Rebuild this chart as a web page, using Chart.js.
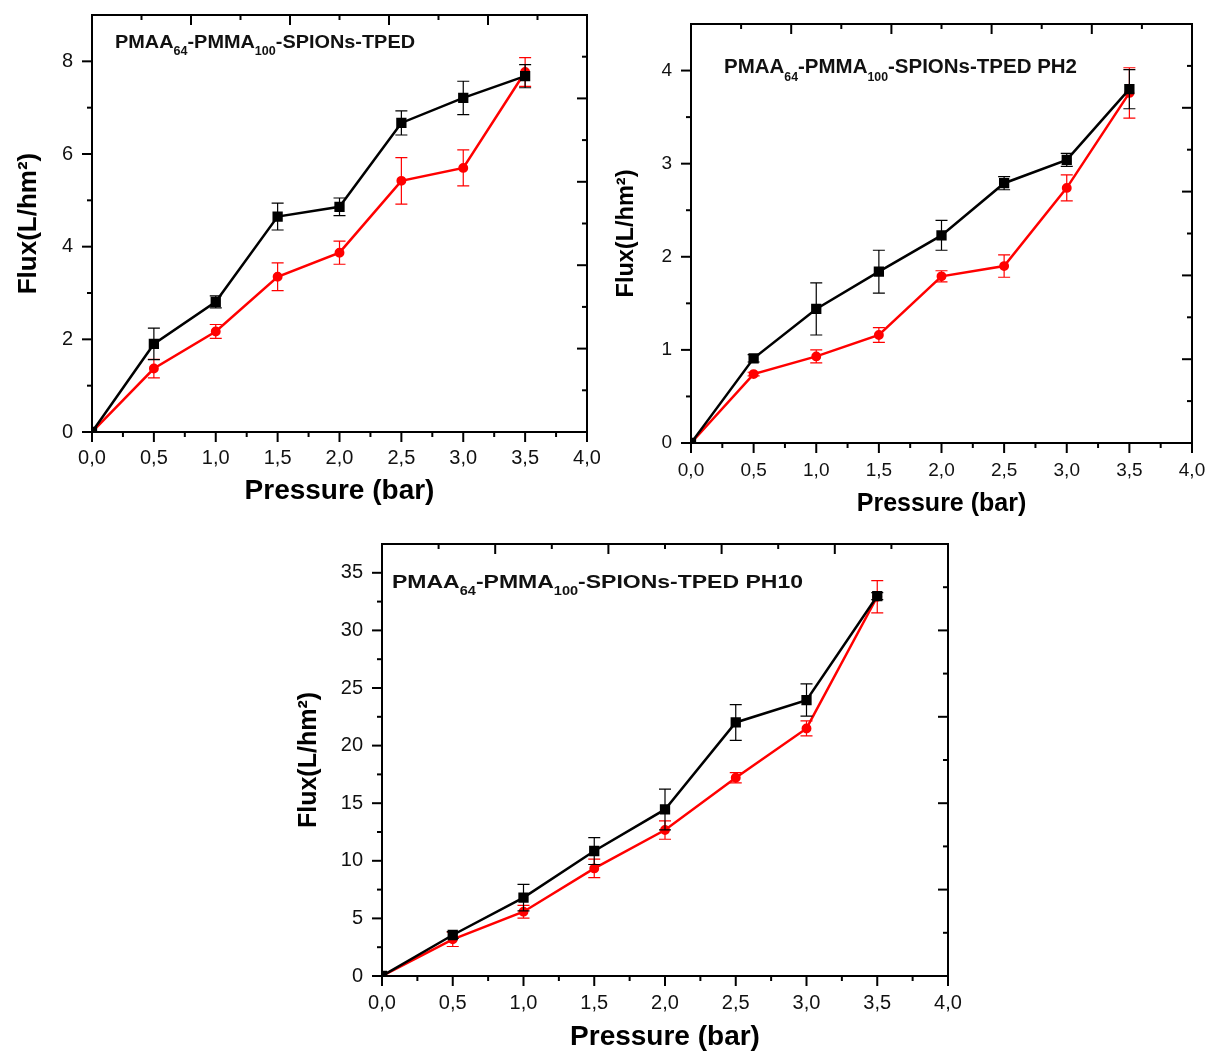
<!DOCTYPE html>
<html>
<head>
<meta charset="utf-8">
<script src="https://cdn.jsdelivr.net/npm/chart.js@4.4.1/dist/chart.umd.min.js"></script>
<style>
  html, body { margin: 0; padding: 0; background: #fff; overflow: hidden; }
  body { width: 1209px; height: 1051px; position: relative; }
  canvas { position: absolute; }
</style>
</head>
<body>
<canvas id="c1" width="600" height="520" style="left:0px;top:0px;width:600px;height:520px"></canvas>
<canvas id="c2" width="609" height="525" style="left:600px;top:0px;width:609px;height:525px"></canvas>
<canvas id="c3" width="690" height="530" style="left:290px;top:530px;width:690px;height:530px"></canvas>
<script>
// shared x values (bar)
const pressure = [0, 0.5, 1, 1.5, 2, 2.5, 3, 3.5];
const xTicks = [0, 0.5, 1, 1.5, 2, 2.5, 3, 3.5, 4];

// panel 1 : PMAA64-PMMA100-SPIONs-TPED
const flux1Black = [0, 1.90, 2.81, 4.65, 4.86, 6.67, 7.21, 7.68];
const err1Black  = [0, 0.34, 0.13, 0.29, 0.19, 0.26, 0.36, 0.25];
const flux1Red   = [0, 1.37, 2.17, 3.35, 3.87, 5.42, 5.70, 7.77];
const err1Red    = [0, 0.20, 0.15, 0.30, 0.25, 0.50, 0.39, 0.31];
const yTicks1 = [0, 2, 4, 6, 8];

// panel 2 : PH2
const flux2Black = [0, 0.91, 1.44, 1.84, 2.23, 2.79, 3.04, 3.80];
const err2Black  = [0, 0.04, 0.28, 0.23, 0.16, 0.07, 0.07, 0.21];
const flux2Red   = [0, 0.74, 0.93, 1.16, 1.79, 1.90, 2.74, 3.76];
const err2Red    = [0, 0.02, 0.07, 0.08, 0.06, 0.12, 0.14, 0.27];
const yTicks2 = [0, 1, 2, 3, 4];

// panel 3 : PH10
const flux3Black = [0, 3.56, 6.80, 10.85, 14.46, 22.01, 23.95, 32.98];
const err3Black  = [0, 0.30, 1.15, 1.17, 1.77, 1.55, 1.40, 0.30];
const flux3Red   = [0, 3.18, 5.58, 9.34, 12.67, 17.21, 21.49, 32.92];
const err3Red    = [0, 0.62, 0.55, 0.80, 0.80, 0.45, 0.65, 1.40];
const yTicks3 = [0, 5, 10, 15, 20, 25, 30, 35];

const FONT = "'Liberation Sans', Arial, Helvetica, sans-serif";

function comma(v) {
  return v.toFixed(1).replace('.', ',');
}

function mids(vals) {
  const out = [];
  for (let i = 0; i < vals.length - 1; i++) out.push((vals[i] + vals[i + 1]) / 2);
  return out;
}

// frame, origin-style ticks, error bars and the label inside the plot
const originPlugin = {
  id: 'origin',
  afterDatasetDraw(chart, args) {
    const ds = chart.data.datasets[args.index];
    if (!ds.errors) return;
    const ctx = chart.ctx, sx = chart.scales.x, sy = chart.scales.y;
    ctx.save();
    ctx.strokeStyle = ds.borderColor;
    ctx.lineWidth = 1.2;
    ds.data.forEach((p, i) => {
      const e = ds.errors[i];
      if (!e) return;
      const x = sx.getPixelForValue(p.x);
      const yt = sy.getPixelForValue(p.y + e);
      const yb = sy.getPixelForValue(p.y - e);
      ctx.beginPath();
      ctx.moveTo(x, yt); ctx.lineTo(x, yb);
      ctx.moveTo(x - 6, yt); ctx.lineTo(x + 6, yt);
      ctx.moveTo(x - 6, yb); ctx.lineTo(x + 6, yb);
      ctx.stroke();
    });
    ctx.restore();
  },
  afterDraw(chart, args, opts) {
    const ctx = chart.ctx, a = chart.chartArea;
    const sx = chart.scales.x, sy = chart.scales.y;
    const tx = chart.scales.x2, ty = chart.scales.y2;
    ctx.save();
    ctx.strokeStyle = '#000';
    ctx.lineWidth = 2;
    const seg = (x1, y1, x2, y2) => { ctx.beginPath(); ctx.moveTo(x1, y1); ctx.lineTo(x2, y2); ctx.stroke(); };

    const xMaj = sx.ticks.map(t => t.value);
    const yMaj = sy.ticks.map(t => t.value);
    xMaj.forEach(v => { const p = sx.getPixelForValue(v); seg(p, a.bottom, p, a.bottom + 10); });
    mids(xMaj).forEach(v => { const p = sx.getPixelForValue(v); seg(p, a.bottom, p, a.bottom + 5); });
    yMaj.forEach(v => { const p = sy.getPixelForValue(v); seg(a.left, p, a.left - 10, p); });
    mids(yMaj.concat([yMaj[yMaj.length - 1] + (yMaj[1] - yMaj[0])])).forEach(v => {
      if (v >= sy.max) return;
      const p = sy.getPixelForValue(v); seg(a.left, p, a.left - 5, p);
    });
    // mirrored axes have their own 10 divisions
    for (let i = 1; i < 10; i++) {
      const len = i % 2 ? 5 : 10;
      const px = tx.getPixelForValue(i);
      seg(px, a.top, px, a.top + len);
      const py = ty.getPixelForValue(i);
      seg(a.right, py, a.right - len, py);
    }
    ctx.strokeRect(a.left, a.top, a.right - a.left, a.bottom - a.top);

    // label with subscripts
    const parts = [['PMAA', 0], ['64', 1], ['-PMMA', 0], ['100', 1], ['-SPIONs-TPED' + opts.suffix, 0]];
    const big = 'bold ' + opts.size + 'px ' + FONT;
    const small = 'bold ' + Math.round(opts.size * 0.62) + 'px ' + FONT;
    let w = 0;
    parts.forEach(([t, s]) => { ctx.font = s ? small : big; w += ctx.measureText(t).width; });
    const k = opts.width / w;
    ctx.translate(a.left + opts.dx, a.top + opts.dy);
    ctx.scale(k, 1);
    ctx.fillStyle = '#111';
    ctx.textBaseline = 'alphabetic';
    let x = 0;
    parts.forEach(([t, s]) => {
      ctx.font = s ? small : big;
      ctx.fillText(t, x, s ? opts.size * 0.38 : 0);
      x += ctx.measureText(t).width;
    });
    ctx.restore();
  }
};

function pts(ys) {
  return pressure.map((p, i) => ({ x: p, y: ys[i] }));
}

function noPad(s) {
  s.paddingLeft = 0; s.paddingRight = 0; s.paddingTop = 0; s.paddingBottom = 0;
}

function makePanel(id, cfg) {
  const fixX = cfg.xHeight, fixY = cfg.yWidth;
  new Chart(document.getElementById(id), {
    type: 'line',
    data: {
      datasets: [
        {
          data: pts(cfg.black), errors: cfg.blackErr,
          borderColor: '#000000', backgroundColor: '#000000',
          borderWidth: 2.5, pointStyle: 'rect', pointRadius: 5.5, tension: 0
        },
        {
          data: pts(cfg.red), errors: cfg.redErr,
          borderColor: '#ff0000', backgroundColor: '#ff0000',
          borderWidth: 2.5, pointStyle: 'circle', pointRadius: 3.7, tension: 0
        }
      ]
    },
    options: {
      responsive: false,
      animation: false,
      layout: { padding: { left: 0, top: cfg.top, right: cfg.right, bottom: 0 } },
      plugins: {
        legend: { display: false },
        tooltip: { enabled: false },
        origin: cfg.label
      },
      scales: {
        x: {
          type: 'linear', min: 0, max: 4,
          afterBuildTicks: s => { s.ticks = xTicks.map(v => ({ value: v })); },
          afterFit: s => { s.height = fixX; noPad(s); },
          grid: { display: false, drawTicks: false },
          border: { display: false },
          ticks: {
            padding: cfg.xPad, color: '#111',
            font: { family: FONT, size: cfg.tickSize },
            callback: v => comma(v)
          },
          title: {
            display: true, text: 'Pressure (bar)', color: '#000',
            font: { family: FONT, size: cfg.xTitleSize, weight: 'bold' },
            padding: { top: 0, bottom: cfg.xTitlePad }
          }
        },
        y: {
          type: 'linear', min: 0, max: cfg.yMax,
          afterBuildTicks: s => { s.ticks = cfg.yTicks.map(v => ({ value: v })); },
          afterFit: s => { s.width = fixY; noPad(s); },
          grid: { display: false, drawTicks: false },
          border: { display: false },
          ticks: {
            padding: 19, color: '#111',
            font: { family: FONT, size: cfg.tickSize },
            callback: v => String(v)
          },
          title: {
            display: true, text: 'Flux(L/hm²)', color: '#000',
            font: { family: FONT, size: cfg.yTitleSize, weight: 'bold' },
            padding: { top: cfg.yTitlePad, bottom: 0 }
          }
        },
        x2: { type: 'linear', position: 'top', display: false, min: 0, max: 10 },
        y2: { type: 'linear', position: 'right', display: false, min: 0, max: 10 }
      }
    },
    plugins: [originPlugin]
  });
}

makePanel('c1', {
  black: flux1Black, blackErr: err1Black, red: flux1Red, redErr: err1Red,
  yTicks: yTicks1, yMax: 9,
  top: 15, right: 13, yWidth: 92, xHeight: 88,
  xPad: 14, tickSize: 20, xTitleSize: 28, xTitlePad: 12, yTitleSize: 26, yTitlePad: 13,
  label: { suffix: '', size: 19, width: 300, dx: 23, dy: 33 }
});

makePanel('c2', {
  black: flux2Black, blackErr: err2Black, red: flux2Red, redErr: err2Red,
  yTicks: yTicks2, yMax: 4.5,
  top: 24, right: 17, yWidth: 91, xHeight: 82,
  xPad: 16, tickSize: 19, xTitleSize: 25, xTitlePad: 6, yTitleSize: 23.5, yTitlePad: 12,
  label: { suffix: ' PH2', size: 20, width: 353, dx: 33, dy: 49 }
});

makePanel('c3', {
  black: flux3Black, blackErr: err3Black, red: flux3Red, redErr: err3Red,
  yTicks: yTicks3, yMax: 37.5,
  top: 14, right: 32, yWidth: 92, xHeight: 84,
  xPad: 15, tickSize: 20, xTitleSize: 28, xTitlePad: 6, yTitleSize: 25, yTitlePad: 4,
  label: { suffix: ' PH10', size: 19, width: 411, dx: 10, dy: 44 }
});
</script>
</body>
</html>
